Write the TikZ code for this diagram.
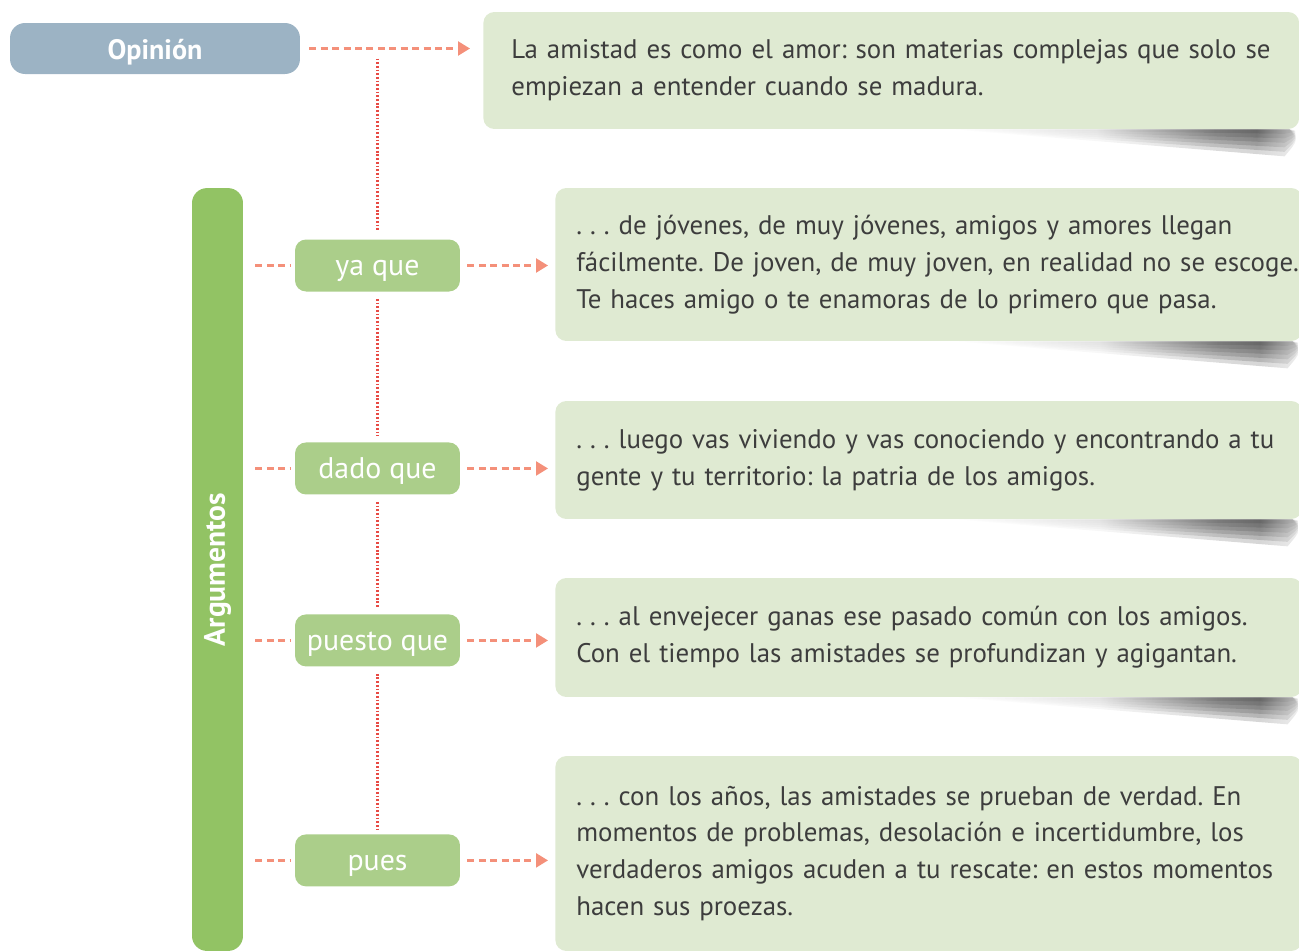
\documentclass[tikz,border=0pt]{standalone}
\usepackage{fontspec}
\setmainfont{PT Sans}
\frenchspacing
\usetikzlibrary{shapes,positioning,arrows.meta,backgrounds}

\definecolor{opgris}{HTML}{9CB3C4}
\definecolor{barraverde}{HTML}{92C364}
\definecolor{nexoverde}{HTML}{ABCE8A}
\definecolor{fondoverde}{HTML}{DFEAD2}
\definecolor{salmon}{HTML}{F4907A}
\definecolor{puntorojo}{HTML}{E84A44}
\definecolor{textogris}{HTML}{3D3D3D}

\pgfdeclarehorizontalshading{sombrah}{100bp}{color(0bp)=(white); color(25bp)=(white);
  color(46bp)=(black!15); color(63bp)=(black!70); color(69bp)=(black!80);
  color(74bp)=(black!40); color(75bp)=(black!15); color(100bp)=(black!15)}

\tikzset{
  opinion/.style={rectangle, rounded corners=0.3cm, fill=opgris, text=white,
    font=\bfseries\fontsize{16}{19}\selectfont, minimum width=5.8cm, minimum height=1.02cm,
    text height=13pt, text depth=0pt},
  argum/.style={rectangle, rounded corners=0.3cm, fill=barraverde, text=white,
    font=\bfseries\fontsize{16.8}{19}\selectfont, rotate=90, minimum width=15.26cm, minimum height=1.02cm},
  nexo/.style={rectangle, rounded corners=0.22cm, fill=nexoverde, text=white,
    font=\fontsize{17}{20}\selectfont, minimum width=3.3cm, minimum height=1.04cm,
    text height=11.4pt, text depth=0pt},
  texto/.style={rectangle, rounded corners=0.22cm, fill=fondoverde, text=textogris,
    align=left, anchor=west, inner ysep=0pt, inner xsep=0.42cm, text width=14.1cm,
    font=\fontsize{15.3}{21}\selectfont},
  rayas/.style={draw=salmon, line width=1.3pt, dash pattern=on 4pt off 2.5pt},
  flecha/.style={rayas, -{Triangle[length=0.24cm, width=0.28cm]}},
  puntos/.style={draw=puntorojo, line width=1.2pt, dash pattern=on 1pt off 1.1pt},
  sombra/.style={shading=sombrah, opacity=0.2},
}

% puntos suspensivos espaciados
\newcommand{\susp}{.\kern0.3em.\kern0.3em.}

% sombra difusa bajo la parte derecha de un cuadro (capas superpuestas)
\newcommand{\sombracuadro}[1]{
  \foreach \k in {1,...,6} {
    \shade[sombra] ([xshift=-7cm]#1.south east) -- ([xshift=-0.2cm]#1.south east)
      .. controls ([xshift=-0.02cm,yshift=-0.035*\k cm]#1.south east) .. ([xshift=-0.3cm,yshift=-0.09*\k cm]#1.south east)
      .. controls ([xshift=-2.5cm,yshift=-0.06*\k cm]#1.south east) .. ([xshift=-7cm]#1.south east) -- cycle;
  }
}

\begin{document}
\begin{tikzpicture}[x=0.02cm,y=-0.02cm]
    \useasboundingbox (0,0) rectangle (1299,951);
    \clip (0,0) rectangle (1299,951);

    \node[opinion] (op) at (155,48.5) {Opinión};
    \node[texto, minimum height=2.34cm, inner xsep=0.56cm, text width=15.2cm] (optexto) at (483,70.5)
        {La amistad es como el amor: son materias complejas que solo se\\empiezan a entender cuando se madura.};

    \node[argum] (arg) at (217.5,569.5) {Argumentos};

    \node[nexo] (yaque) at (377.5,265.5) {ya que};
    \node[nexo, below of=yaque, node distance=4.06cm] (dado) {dado que};
    \node[nexo, below of=dado, node distance=3.44cm] (puesto) {puesto que};
    \node[nexo, below of=puesto, node distance=4.4cm] (pues) {pues};

    \node[texto, minimum height=3.06cm] (t1) at (555,264.5)
        {\susp{} de jóvenes, de muy jóvenes, amigos y amores llegan\\\mbox{fácilmente. De joven, de muy joven, en realidad no se escoge.}\\Te haces amigo o te enamoras de lo primero que pasa.};
    \node[texto, minimum height=2.36cm] (t2) at (555,460)
        {\susp{} luego vas viviendo y vas conociendo y encontrando a tu\\gente y tu territorio: la patria de los amigos.};
    \node[texto, minimum height=2.38cm] (t3) at (555,637.5)
        {\susp{} al envejecer ganas ese pasado común con los amigos.\\Con el tiempo las amistades se profundizan y agigantan.};
    \node[texto, minimum height=3.9cm] (t4) at (555,853.5)
        {\susp{} con los años, las amistades se prueban de verdad. En\\momentos de problemas, desolación e incertidumbre, los\\\mbox{verdaderos amigos acuden a tu rescate: en estos momentos}\\hacen sus proezas.};

    % sombras
    \begin{scope}[on background layer]
        \foreach \c in {optexto, t1, t2, t3} {\sombracuadro{\c}}
    \end{scope}

    \coordinate (cruce) at (op.east -| yaque.north);

    \draw[flecha, shorten <=0.18cm, shorten >=0.26cm] (op.east) -- (op.east -| optexto.west);
    \draw[puntos, shorten <=0.2cm, shorten >=0.16cm] (cruce) -- (yaque.north);
    \draw[puntos, shorten <=0.14cm, shorten >=0.12cm] (yaque.south) -- (dado.north);
    \draw[puntos, shorten <=0.14cm, shorten >=0.12cm] (dado.south) -- (puesto.north);
    \draw[puntos, shorten <=0.14cm, shorten >=0.1cm] (puesto.south) -- (pues.north);

    \foreach \n/\t in {yaque/t1, dado/t2, puesto/t3, pues/t4} {
        \draw[rayas, shorten <=0.24cm, shorten >=0.1cm] (\n.west -| arg.south) -- (\n.west);
        \draw[flecha, shorten <=0.14cm, shorten >=0.14cm] (\n.east) -- (\n.east -| \t.west);
    }
\end{tikzpicture}
\end{document}
